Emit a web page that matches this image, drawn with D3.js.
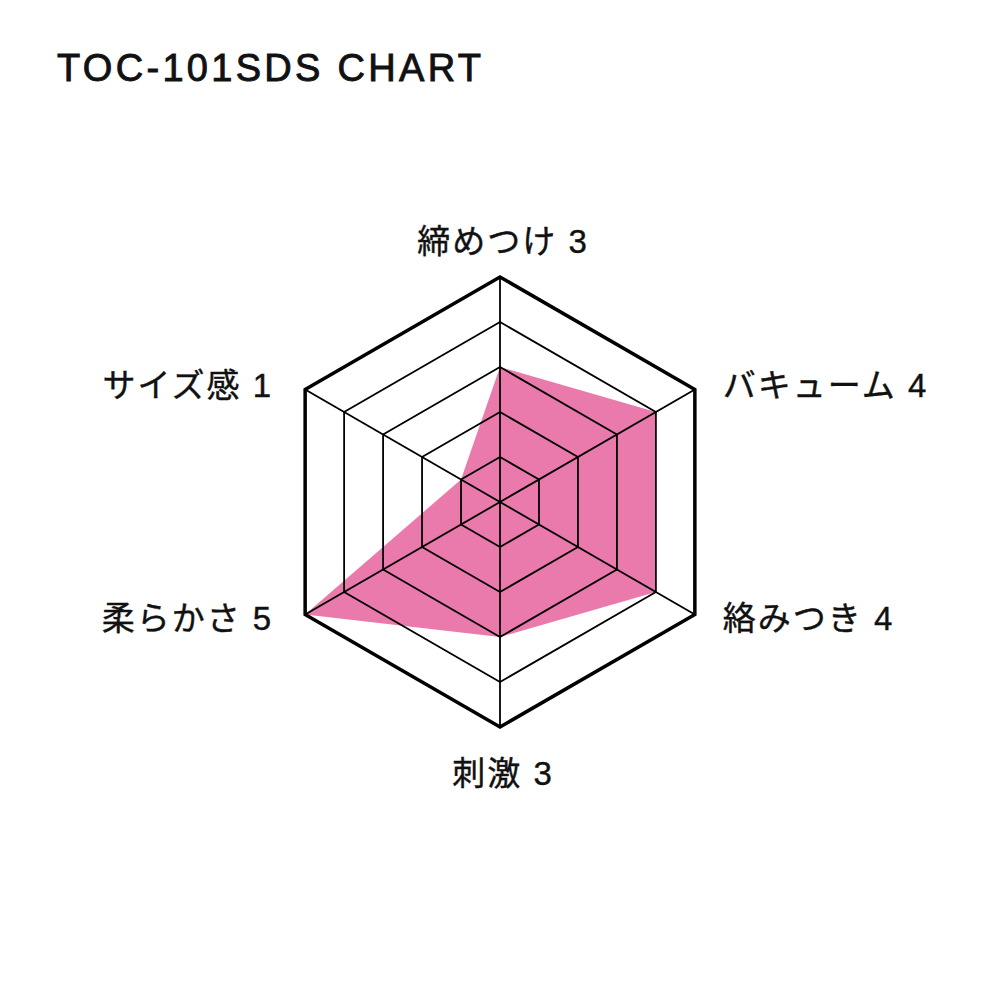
<!DOCTYPE html>
<html>
<head>
<meta charset="utf-8">
<script src="https://cdn.jsdelivr.net/npm/d3@7"></script>
<style>
  body { margin: 0; background: #fff; }
  text { font-family: "Liberation Sans", "Noto Sans CJK JP", sans-serif; fill: #111; }
</style>
</head>
<body>
<svg id="chart"></svg>
<script>
// chart data (clockwise from the top)
const axes = ['締めつけ', 'バキューム', '絡みつき', '刺激', '柔らかさ', 'サイズ感'];
const values = [3, 4, 4, 3, 5, 1];
const levels = [1, 2, 3, 4, 5];
const title = 'TOC-101SDS CHART';

const width = 1000, height = 1000;
const cx = 500, cy = 502, radius = 225;

const svg = d3.select('#chart')
    .attr('width', width)
    .attr('height', height);

svg.append('text')
    .attr('x', 57)
    .attr('y', 81)
    .attr('font-size', 38)
    .attr('letter-spacing', 3.3)
    .attr('stroke', '#111')
    .attr('stroke-width', 0.9)
    .text(title);

const rScale = d3.scaleLinear()
    .domain([0, d3.max(levels)])
    .range([0, radius]);

const angle = d3.scalePoint()
    .domain(d3.range(axes.length + 1))
    .range([0, 2 * Math.PI]);

// point on axis i at value v
const pt = (i, v) => {
  const a = angle(i);
  return [Math.sin(a) * rScale(v), -Math.cos(a) * rScale(v)];
};

const g = svg.append('g')
    .attr('transform', `translate(${cx},${cy})`);

const line = d3.line().curve(d3.curveLinearClosed);

// data area first, grid drawn on top
g.append('path')
    .attr('d', line(values.map((v, i) => pt(i, v))))
    .attr('fill', '#e97aab');

g.selectAll('.ring')
    .data(levels)
    .join('path')
    .attr('class', 'ring')
    .attr('d', l => line(axes.map((a, i) => pt(i, l))))
    .attr('fill', 'none')
    .attr('stroke', '#000')
    .attr('stroke-linejoin', 'miter')
    .attr('stroke-width', l => l === d3.max(levels) ? 3.5 : 1.8);

g.selectAll('.spoke')
    .data(axes)
    .join('line')
    .attr('class', 'spoke')
    .attr('x1', 0).attr('y1', 0)
    .attr('x2', (d, i) => pt(i, d3.max(levels))[0])
    .attr('y2', (d, i) => pt(i, d3.max(levels))[1])
    .attr('stroke', '#000')
    .attr('stroke-width', 1.8);

// axis labels
const labelPos = (i) => {
  const [x, y] = pt(i, d3.max(levels));
  const s = Math.sin(angle(i)), c = -Math.cos(angle(i));
  if (Math.abs(s) < 0.01) {
    return {x: x + 3, y: y + (c < 0 ? -36 : 46), anchor: 'middle'};
  }
  return {x: x + (s > 0 ? 28 : -32), y: y + (c < 0 ? -4 : 4), anchor: s > 0 ? 'start' : 'end'};
};

g.selectAll('.label')
    .data(axes)
    .join('text')
    .attr('class', 'label')
    .each(function(d, i) {
      const p = labelPos(i);
      d3.select(this)
          .attr('x', p.x)
          .attr('y', p.y)
          .attr('text-anchor', p.anchor);
    })
    .attr('dominant-baseline', 'central')
    .attr('font-size', 33)
    .attr('letter-spacing', 2)
    .attr('stroke', '#111')
    .attr('stroke-width', 0.4)
    .text((d, i) => `${d} ${values[i]}`);
</script>
</body>
</html>
